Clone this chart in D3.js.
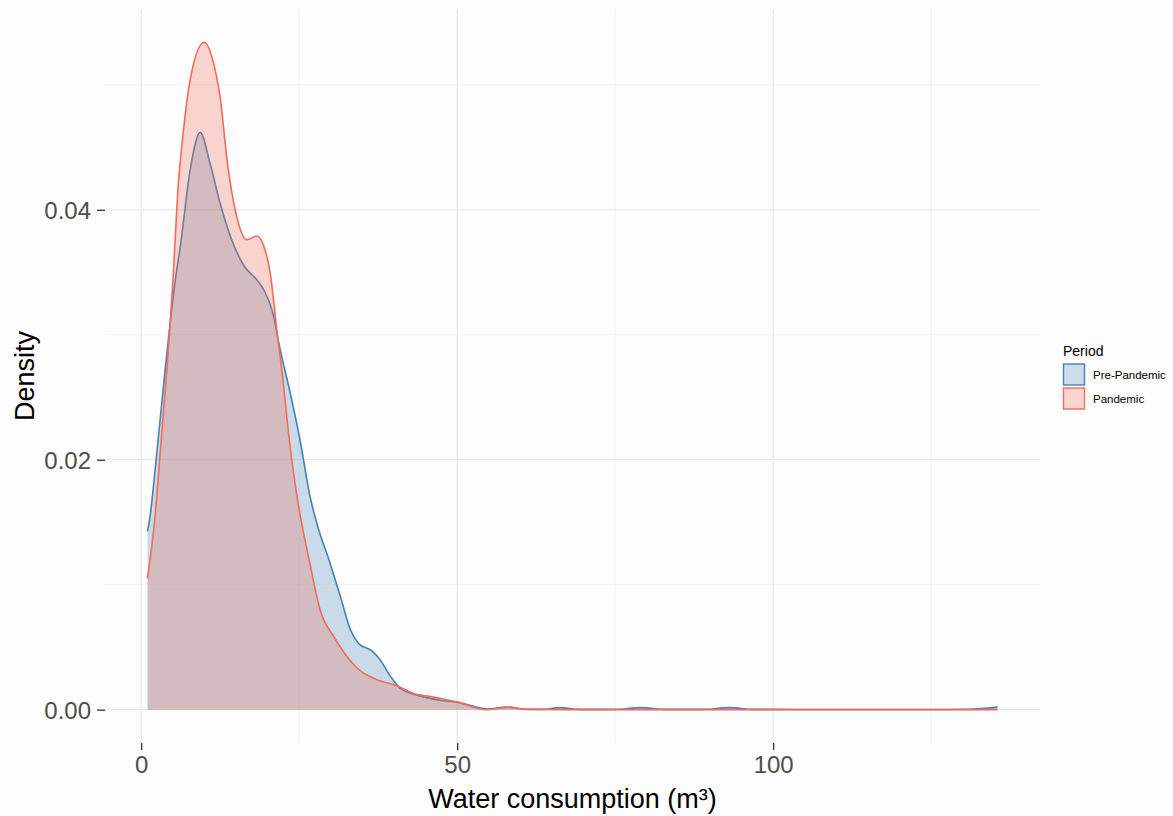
<!DOCTYPE html>
<html>
<head>
<meta charset="utf-8">
<script src="https://cdn.jsdelivr.net/npm/d3@7"></script>
<style>
  body { margin: 0; background: #fdfdfd; }
  svg { display: block; font-family: "Liberation Sans", Arial, Helvetica, sans-serif; }
</style>
</head>
<body>
<div id="graf"></div>
<script>
// Data: density estimate for each period
periodos = ['Pre-Pandemic', 'Pandemic']
colores  = ['#4682B4', '#F26B5B']

preX = [1.0, 1.42, 1.95, 3.53, 5.4, 6.2, 7.75, 9.34, 10.9, 12.5, 14.1, 16.3, 18.3, 19.4, 20.8, 22.0, 23.6, 25.2, 26.7, 27.8, 29.9, 31.5, 33.1, 34.4, 36.5, 37.8, 39.4, 41.0, 44.1, 47.3, 50.0, 52.6, 54.7, 57.9, 61.0, 63.5, 66.1, 69.5, 75.0, 79.0, 83.0, 89.0, 93.0, 97.0, 110.0, 125.0, 131.0, 135.5]
preY = [0.01427, 0.0155, 0.0179, 0.0259, 0.0344, 0.0371, 0.0432, 0.0462, 0.0437, 0.0405, 0.0379, 0.0355, 0.0344, 0.0336, 0.0318, 0.0288, 0.0253, 0.0214, 0.0171, 0.0149, 0.0117, 0.0091, 0.0064, 0.0053, 0.0047, 0.0040, 0.0027, 0.0017, 0.0011, 0.00075, 0.0006, 0.00027, 0.00005, 0.0002, 0.00003, 0.00002, 0.00016, 0.00002, 0.00002, 0.00016, 0.00002, 0.00002, 0.00016, 0.00002, 0.00001, 0.00001, 0.00003, 0.0002]

panX = [1.0, 2.2, 3.0, 4.06, 5.1, 5.75, 6.7, 7.75, 9.97, 11.7, 12.5, 13.66, 15.1, 16.7, 18.3, 19.6, 20.4, 21.5, 22.5, 23.3, 24.4, 25.0, 26.7, 28.3, 30.4, 32.5, 34.7, 37.3, 40.5, 43.1, 45.2, 47.8, 50.0, 53.1, 54.7, 57.9, 61.0, 70.0, 100.0, 135.5]
panY = [0.0105, 0.0155, 0.0205, 0.0272, 0.0350, 0.0411, 0.0464, 0.0504, 0.0534, 0.0512, 0.0490, 0.0437, 0.0395, 0.0376, 0.0379, 0.0368, 0.0350, 0.0302, 0.0261, 0.0222, 0.0179, 0.0160, 0.0117, 0.0080, 0.0059, 0.0043, 0.0031, 0.0024, 0.0019, 0.0013, 0.0011, 0.00085, 0.0006, 0.00013, 0.0, 0.00018, 0.00002, 0.0, 0.0, 0.0]

xTicks = [0, 50, 100]
xMinor = [25, 75, 125]
yTicks = [0, 0.02, 0.04]
yMinor = [0.01, 0.03, 0.05]

ancho_total = 1173
alto_total  = 816
margen = { superior: 9, izquierdo: 105, derecho: 133, inferior: 73 }
ancho = ancho_total - margen.izquierdo - margen.derecho
alto  = alto_total - margen.superior - margen.inferior

svg = d3.select('#graf').append('svg')
        .attr('width', ancho_total)
        .attr('height', alto_total)

svg.append('rect')
   .attr('width', ancho_total)
   .attr('height', alto_total)
   .attr('fill', '#fdfdfd')

g = svg.append('g')
       .attr('transform', `translate(${ margen.izquierdo }, ${ margen.superior })`)

// ggplot style 5% expansion on both axes
xExt = d3.extent(preX.concat(panX))
yMax = d3.max(preY.concat(panY))
xPad = (xExt[1] - xExt[0]) * 0.05
x = d3.scaleLinear()
      .domain([xExt[0] - xPad, xExt[1] + xPad])
      .range([0, ancho])
y = d3.scaleLinear()
      .domain([-yMax * 0.05, yMax * 1.05])
      .range([alto, 0])

// grid
g.selectAll('.minx').data(xMinor).enter().append('line')
 .attr('x1', d => x(d)).attr('x2', d => x(d))
 .attr('y1', 0).attr('y2', alto)
 .attr('stroke', '#f3f3f3').attr('stroke-width', 1)
g.selectAll('.miny').data(yMinor).enter().append('line')
 .attr('y1', d => y(d)).attr('y2', d => y(d))
 .attr('x1', 0).attr('x2', ancho)
 .attr('stroke', '#f3f3f3').attr('stroke-width', 1)
g.selectAll('.majx').data(xTicks).enter().append('line')
 .attr('x1', d => x(d)).attr('x2', d => x(d))
 .attr('y1', 0).attr('y2', alto)
 .attr('stroke', '#e9e9e9').attr('stroke-width', 1.3)
g.selectAll('.majy').data(yTicks).enter().append('line')
 .attr('y1', d => y(d)).attr('y2', d => y(d))
 .attr('x1', 0).attr('x2', ancho)
 .attr('stroke', '#e9e9e9').attr('stroke-width', 1.3)

// densities, pre-pandemic first so pandemic sits on top
series = [
  { nombre: periodos[0], color: colores[0], datos: preX.map((v, i) => [v, preY[i]]) },
  { nombre: periodos[1], color: colores[1], datos: panX.map((v, i) => [v, panY[i]]) }
]

area = d3.area()
         .x(d => x(d[0]))
         .y0(y(0))
         .y1(d => y(d[1]))
         .curve(d3.curveMonotoneX)
linea = d3.line()
          .x(d => x(d[0]))
          .y(d => y(d[1]))
          .curve(d3.curveMonotoneX)

series.forEach(s => {
  g.append('path')
   .attr('d', area(s.datos))
   .attr('fill', s.color)
   .attr('fill-opacity', 0.28)
  g.append('path')
   .attr('d', linea(s.datos))
   .attr('fill', 'none')
   .attr('stroke', s.color)
   .attr('stroke-width', 1.6)
})

// axes
xAxisGroup = g.append('g')
              .attr('transform', `translate(0, ${ alto })`)
              .call(d3.axisBottom(x).tickValues(xTicks).tickSize(7).tickPadding(6).tickFormat(d3.format('d')))
yAxisGroup = g.append('g')
              .call(d3.axisLeft(y).tickValues(yTicks).tickSize(8).tickPadding(6).tickFormat(d3.format('.2f')))

svg.selectAll('.domain').remove()
svg.selectAll('.tick line').attr('stroke', '#333').attr('stroke-width', 1.3)
svg.selectAll('.tick text')
   .attr('fill', '#4d4d4d')
   .style('font-size', '24px')
   .style('font-family', '"Liberation Sans", Arial, sans-serif')
yAxisGroup.selectAll('.tick text').attr('dy', '0.35em')

// axis titles
svg.append('text')
   .attr('x', margen.izquierdo + ancho / 2)
   .attr('y', 808)
   .attr('text-anchor', 'middle')
   .style('font-size', '27px')
   .attr('fill', '#000')
   .text('Water consumption (m³)')
svg.append('text')
   .attr('transform', `translate(34, ${ margen.superior + alto / 2 }) rotate(-90)`)
   .attr('text-anchor', 'middle')
   .style('font-size', '27px')
   .attr('fill', '#000')
   .text('Density')

// legend
leyenda = svg.append('g')
             .attr('transform', 'translate(1063, 0)')
leyenda.append('text')
       .attr('x', 0)
       .attr('y', 356)
       .style('font-size', '14px')
       .text('Period')
series.forEach((s, i) => {
  leyenda.append('rect')
         .attr('x', 0.5)
         .attr('y', 364 + i * 24)
         .attr('width', 21)
         .attr('height', 21)
         .attr('fill', '#fff')
  leyenda.append('rect')
         .attr('x', 0.5)
         .attr('y', 364 + i * 24)
         .attr('width', 21)
         .attr('height', 21)
         .attr('fill', s.color)
         .attr('fill-opacity', 0.28)
         .attr('stroke', s.color)
         .attr('stroke-width', 1.4)
  leyenda.append('text')
         .attr('x', 30)
         .attr('y', 378.5 + i * 24)
         .style('font-size', '11.5px')
         .text(s.nombre)
})
</script>
</body>
</html>
